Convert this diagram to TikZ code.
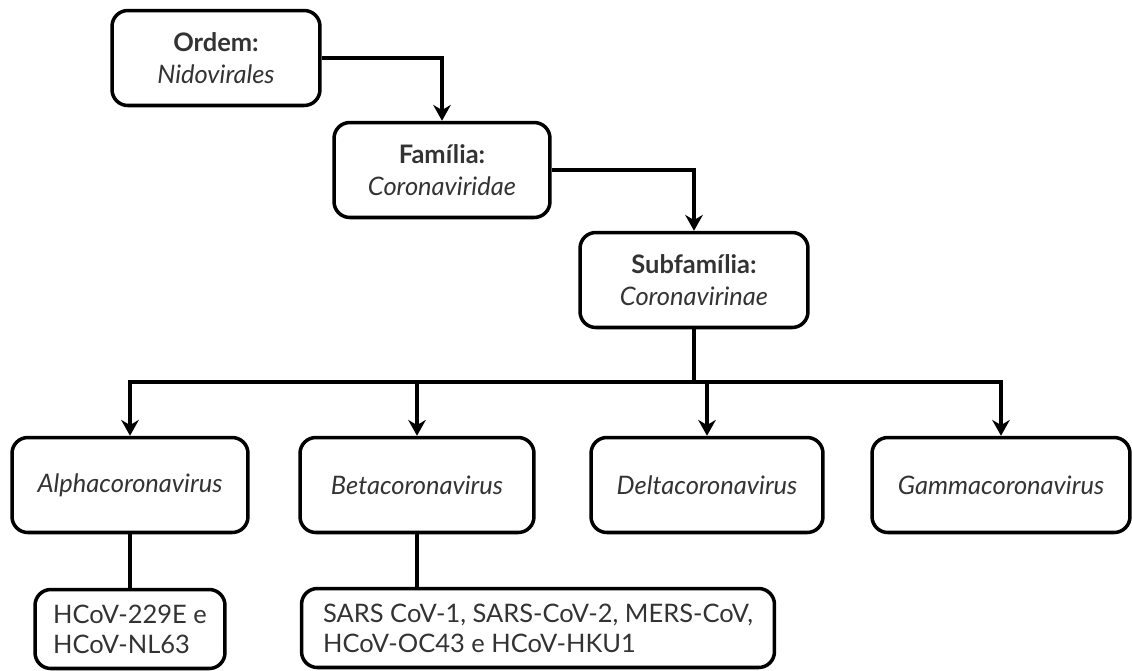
\documentclass[tikz,border=0pt]{standalone}
\usepackage{fontspec}
\setmainfont{Lato}
\usetikzlibrary{arrows.meta}
\definecolor{textgray}{rgb}{0.2,0.2,0.2}

\begin{document}
\begin{tikzpicture}[
  x=0.02cm, y=-0.02cm,
  box/.style={draw, line width=2pt, rounded corners=9pt, align=center, text=textgray, font=\fontsize{14.5}{18}\selectfont, minimum height=1.9cm, inner sep=0pt},
  leaf/.style={box, minimum height=1.58cm, align=left, font=\fontsize{14.5}{17}\selectfont},
  arrow/.style={-{Stealth[length=9pt, width=10pt]}, line width=2pt},
  link/.style={line width=2pt},
]
\useasboundingbox (0,0) rectangle (1132,670);

% Taxonomy
\node[box, minimum width=4.16cm] (ordem) at (216,58) {\textbf{Ordem:}\\\textit{Nidovirales}};
\node[box, minimum width=4.32cm] (familia) at (442,170) {\textbf{Família:}\\\textit{Coronaviridae}};
\node[box, minimum width=4.56cm] (subfam) at (694,280) {\textbf{Subfamília:}\\\textit{Coronavirinae}};

% Genera
\node[box, minimum width=4.72cm] (alpha) at (130,485) {\textit{Alphacoronavirus}};
\node[box, minimum width=4.68cm] (beta) at (417,485) {\textit{Betacoronavirus}};
\node[box, minimum width=4.64cm] (delta) at (707,485) {\textit{Deltacoronavirus}};
\node[box, minimum width=5.16cm] (gamma) at (1001,485) {\textit{Gammacoronavirus}};

% Species
\node[leaf, minimum width=3.8cm] (alphaleaf) at (130,629) {HCoV-229E e\\HCoV-NL63};
\node[leaf, minimum width=9.46cm] (betaleaf) at (538,628) {SARS CoV-1, SARS-CoV-2, MERS-CoV,\\HCoV-OC43 e HCoV-HKU1};

% Arrows
\draw[arrow] (ordem.east) -| (familia.north);
\draw[arrow] (familia.east) -| (subfam.north);
\coordinate (bus) at (694,382);
\draw[link] (subfam) -- (bus);
\foreach \g in {alpha,beta,delta,gamma}
  \draw[arrow] (bus) -| (\g.north);
\draw[link] (alpha) -- (alphaleaf);
\draw[link] (beta.south) -- (beta.south |- betaleaf.north);

\end{tikzpicture}
\end{document}
